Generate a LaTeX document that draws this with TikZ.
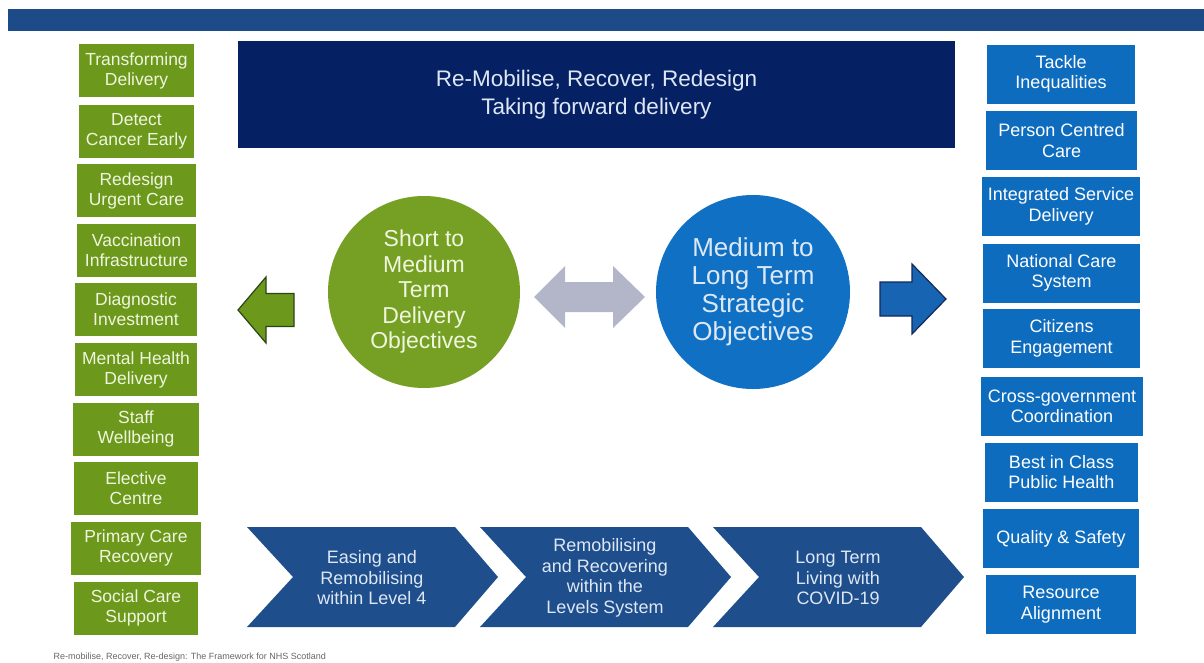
\documentclass[tikz,border=0pt]{standalone}
\usepackage{fontspec}
\setmainfont{Liberation Sans}

\definecolor{barblue}{RGB}{28,75,135}
\definecolor{navybox}{RGB}{6,32,100}
\definecolor{olivebox}{RGB}{108,152,28}
\definecolor{olivecircle}{RGB}{118,160,36}
\definecolor{darkolive}{RGB}{42,70,22}
\definecolor{palegreen}{RGB}{240,246,222}
\definecolor{midblue}{RGB}{14,108,190}
\definecolor{circleblue}{RGB}{16,112,196}
\definecolor{arrowblue}{RGB}{22,100,178}
\definecolor{darknavy}{RGB}{22,40,90}
\definecolor{chevblue}{RGB}{30,78,140}
\definecolor{paleblue}{RGB}{222,232,245}
\definecolor{linkgray}{RGB}{178,182,200}

\begin{document}
\begin{tikzpicture}[x=1pt, y=-1pt,
        deliv/.style={fill=olivebox, text=palegreen, align=center, inner sep=0pt,
            minimum height=53pt, font=\fontsize{17.5}{20}\selectfont},
        strat/.style={fill=midblue, text=white, align=center, inner sep=0pt,
            minimum height=59pt, font=\fontsize{18}{20.5}\selectfont},
        phase/.style={fill=chevblue},
        phasetext/.style={text=paleblue, align=center, font=\fontsize{18}{20.5}\selectfont}]
        \useasboundingbox (0, 0) rectangle (1204, 662);
        \fill[barblue] (8, 9) rectangle (1204, 31);

        \node[fill=navybox, text=paleblue, align=center, minimum width=717pt, minimum height=107pt,
            font=\fontsize{22.5}{28}\selectfont] (title) at (596.5, 94.5)
            {Re-Mobilise, Recover, Redesign\\Taking forward delivery};

        % short to medium term
        \node[deliv, minimum width=115pt] (transform) at (136.5, 70.5) {Transforming\\Delivery};
        \node[deliv, minimum width=115pt] (cancer) at (136.5, 131) {Detect\\Cancer Early};
        \node[deliv, minimum width=119pt] (urgent) at (136.5, 190.5) {Redesign\\Urgent Care};
        \node[deliv, minimum width=119pt] (vaccine) at (136.5, 250.5) {Vaccination\\Infrastructure};
        \node[deliv, minimum width=122pt] (diagnostic) at (136, 309.5) {Diagnostic\\Investment};
        \node[deliv, minimum width=122pt] (mental) at (136, 369.5) {Mental Health\\Delivery};
        \node[deliv, minimum width=126pt] (staff) at (136, 429) {Staff\\Wellbeing};
        \node[deliv, minimum width=124pt] (elective) at (136, 488.5) {Elective\\Centre};
        \node[deliv, minimum width=130pt] (primary) at (136, 548) {Primary Care\\Recovery};
        \node[deliv, minimum width=124pt] (social) at (136, 608) {Social Care\\Support};

        % medium to long term
        \node[strat, minimum width=148pt] (tackle) at (1061, 74) {Tackle\\Inequalities};
        \node[strat, minimum width=151pt] (person) at (1061.5, 140.5) {Person Centred\\Care};
        \node[strat, minimum width=158pt] (integrated) at (1061, 206.5) {Integrated Service\\Delivery};
        \node[strat, minimum width=157pt] (national) at (1061.5, 273) {National Care\\System};
        \node[strat, minimum width=157pt] (citizens) at (1061.5, 338.5) {Citizens\\Engagement};
        \node[strat, minimum width=162pt] (crossgov) at (1062, 406.5) {Cross-government\\Coordination};
        \node[strat, minimum width=153pt] (bestclass) at (1061.5, 472) {Best in Class\\Public Health};
        \node[strat, minimum width=156pt] (quality) at (1061, 538.5) {Quality \& Safety};
        \node[strat, minimum width=150pt] (resource) at (1061, 604.5) {Resource\\Alignment};

        \node[circle, fill=olivecircle, text=palegreen, align=center, minimum size=192pt, inner sep=0pt,
            font=\fontsize{23}{25.5}\selectfont] (shortterm) at (424, 292)
            {Short to\\Medium\\Term\\Delivery\\Objectives};
        \node[circle, fill=circleblue, text=paleblue, align=center, minimum size=194pt, inner sep=0pt,
            font=\fontsize{26}{28}\selectfont] (longterm) at (753, 292)
            {Medium to\\Long Term\\Strategic\\Objectives};

        \fill[linkgray] (534, 297) -- (565, 266) -- (565, 282) -- (613, 282) -- (613, 266) -- (645, 297)
            -- (613, 328) -- (613, 312) -- (565, 312) -- (565, 328) -- cycle;
        \filldraw[fill=olivebox, draw=darkolive, line width=1.2pt] (238, 310) -- (266, 277) -- (266, 293.5)
            -- (294, 293.5) -- (294, 326.5) -- (266, 326.5) -- (266, 343) -- cycle;
        \filldraw[fill=arrowblue, draw=darknavy, line width=1.2pt] (946, 299) -- (912, 264) -- (912, 282)
            -- (880, 282) -- (880, 316) -- (912, 316) -- (912, 334) -- cycle;

        % phases
        \fill[phase] (247, 527) -- ++(208, 0) -- ++(43, 50) -- ++(-43, 50) -- ++(-208, 0) -- ++(46, -50) -- cycle;
        \fill[phase] (480, 527) -- ++(208, 0) -- ++(43, 50) -- ++(-43, 50) -- ++(-208, 0) -- ++(46, -50) -- cycle;
        \fill[phase] (713, 527) -- ++(208, 0) -- ++(43, 50) -- ++(-43, 50) -- ++(-208, 0) -- ++(46, -50) -- cycle;
        \node[phasetext] (easing) at (372, 578) {Easing and\\Remobilising\\within Level 4};
        \node[phasetext] (levels) at (605, 578) {Remobilising\\and Recovering\\within the\\Levels System};
        \node[phasetext] (covid) at (838, 578) {Long Term\\Living with\\COVID-19};

        \node[anchor=west, text=black!60, font=\fontsize{9}{10}\selectfont] (source) at (50, 657)
            {Re-mobilise, Recover, Re-design: The Framework for NHS Scotland};
    \end{tikzpicture}
\end{document}
